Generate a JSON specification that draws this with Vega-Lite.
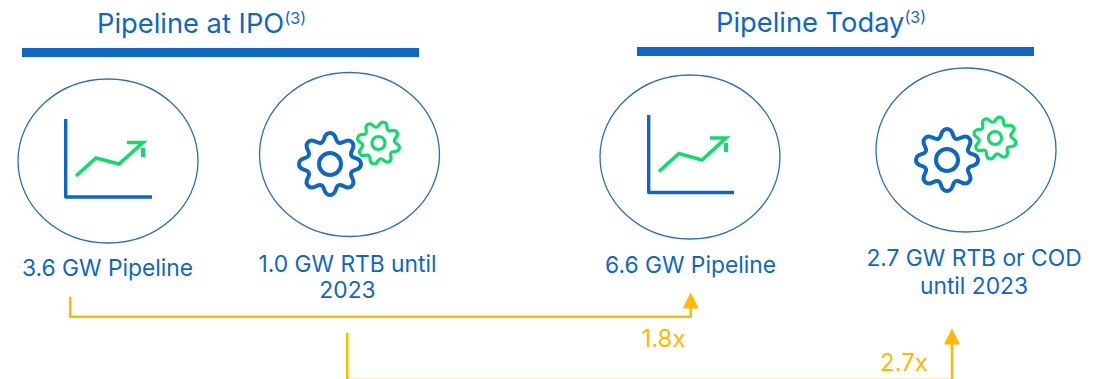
{
  "$schema": "https://vega.github.io/schema/vega-lite/v6.json",
  "width": 1107,
  "height": 379,
  "padding": 0,
  "autosize": {"type": "none"},
  "background": "white",
  "config": {"view": {"stroke": null}},
  "datasets": {
    "bars": [
      {"section": "Pipeline at IPO", "x0": 22, "x1": 419, "y0": 48, "y1": 57},
      {"section": "Pipeline Today", "x0": 637, "x1": 1034, "y0": 47, "y1": 56}
    ],
    "circles": [
      {"item": "pipeline ipo", "x": 108, "y": 161},
      {"item": "rtb ipo", "x": 349.5, "y": 154.5},
      {"item": "pipeline today", "x": 690, "y": 157},
      {"item": "rtb today", "x": 966, "y": 150}
    ],
    "chartAxes": [
      {"icon": "a", "seq": 1, "x": 65.7, "y": 119},
      {"icon": "a", "seq": 2, "x": 65.7, "y": 197},
      {"icon": "a", "seq": 3, "x": 152, "y": 197},
      {"icon": "b", "seq": 1, "x": 648.7, "y": 115},
      {"icon": "b", "seq": 2, "x": 648.7, "y": 192.5},
      {"icon": "b", "seq": 3, "x": 734, "y": 192.5}
    ],
    "trends": [
      {"icon": "a", "seq": 1, "x": 76, "y": 176},
      {"icon": "a", "seq": 2, "x": 96, "y": 158},
      {"icon": "a", "seq": 3, "x": 119, "y": 164},
      {"icon": "a", "seq": 4, "x": 143, "y": 142.5},
      {"icon": "a", "seq": 5, "x": 127, "y": 142.5},
      {"icon": "b", "seq": 1, "x": 659, "y": 171.5},
      {"icon": "b", "seq": 2, "x": 679, "y": 153.5},
      {"icon": "b", "seq": 3, "x": 702, "y": 160},
      {"icon": "b", "seq": 4, "x": 726, "y": 138},
      {"icon": "b", "seq": 5, "x": 710, "y": 138}
    ],
    "trendTicks": [
      {"icon": "a", "seq": 1, "x": 143, "y": 148},
      {"icon": "a", "seq": 2, "x": 143, "y": 157},
      {"icon": "b", "seq": 1, "x": 726, "y": 143},
      {"icon": "b", "seq": 2, "x": 726, "y": 152}
    ],
    "bigGears": [
      {"item": "ipo", "x": 330, "y": 164},
      {"item": "today", "x": 947, "y": 160}
    ],
    "smallGears": [
      {"item": "ipo", "x": 378.5, "y": 143},
      {"item": "today", "x": 995, "y": 138}
    ],
    "connectors": [
      {"link": "pipeline", "seq": 1, "x": 70.3, "y": 296.7},
      {"link": "pipeline", "seq": 2, "x": 70.3, "y": 316.7},
      {"link": "pipeline", "seq": 3, "x": 690.7, "y": 316.7},
      {"link": "pipeline", "seq": 4, "x": 690.7, "y": 306},
      {"link": "rtb", "seq": 1, "x": 347.3, "y": 332.7},
      {"link": "rtb", "seq": 2, "x": 347.3, "y": 380},
      {"link": "rtb", "seq": 3, "x": 952, "y": 380},
      {"link": "rtb", "seq": 4, "x": 952, "y": 342}
    ],
    "arrowHeads": [
      {"link": "pipeline", "x": 690.7, "y": 300.5},
      {"link": "rtb", "x": 952, "y": 336.5}
    ],
    "headings": [
      {"text": "Pipeline at IPO", "x": 97, "y": 32.7},
      {"text": "Pipeline Today", "x": 716, "y": 31.7}
    ],
    "notes": [
      {"text": "(3)", "x": 284.5, "y": 24},
      {"text": "(3)", "x": 904.5, "y": 23}
    ],
    "labels": [
      {"text": "3.6 GW Pipeline", "x": 107.5, "y": 276},
      {"text": "1.0 GW RTB until", "x": 347.5, "y": 271.5},
      {"text": "2023", "x": 347.5, "y": 298},
      {"text": "6.6 GW Pipeline", "x": 690.5, "y": 272.7},
      {"text": "2.7 GW RTB or COD", "x": 974, "y": 266},
      {"text": "until 2023", "x": 974, "y": 294}
    ],
    "multiples": [
      {"text": "1.8x", "x": 663.5, "y": 346.7},
      {"text": "2.7x", "x": 904, "y": 371}
    ]
  },
  "encoding": {
    "x": {"field": "x", "type": "quantitative", "axis": null, "scale": {"domain": [0, 1107], "nice": false, "zero": false}},
    "y": {"field": "y", "type": "quantitative", "axis": null, "scale": {"domain": [0, 379], "nice": false, "zero": false, "reverse": true}}
  },
  "layer": [
    {
      "data": {"name": "bars"},
      "mark": {"type": "rect", "color": "#0F67C5"},
      "encoding": {
        "x": {"field": "x0", "type": "quantitative", "axis": null, "scale": {"domain": [0, 1107], "nice": false, "zero": false}},
        "x2": {"field": "x1"},
        "y": {"field": "y0", "type": "quantitative", "axis": null, "scale": {"domain": [0, 379], "nice": false, "zero": false, "reverse": true}},
        "y2": {"field": "y1"}
      }
    },
    {
      "data": {"name": "circles"},
      "mark": {
        "type": "point", "filled": false, "stroke": "#2A6DBB", "strokeWidth": 1.3, "opacity": 1, "size": 32400,
        "shape": "M1,0C1,0.503 0.552,0.911 0,0.911C-0.552,0.911 -1,0.503 -1,0C-1,-0.503 -0.552,-0.911 0,-0.911C0.552,-0.911 1,-0.503 1,0Z"
      }
    },
    {
      "data": {"name": "chartAxes"},
      "mark": {"type": "line", "stroke": "#0F67C5", "strokeWidth": 3.4, "strokeJoin": "round"},
      "encoding": {"detail": {"field": "icon"}, "order": {"field": "seq", "type": "quantitative"}}
    },
    {
      "data": {"name": "trends"},
      "mark": {"type": "line", "stroke": "#0FDC6C", "strokeWidth": 3.6, "strokeJoin": "miter"},
      "encoding": {"detail": {"field": "icon"}, "order": {"field": "seq", "type": "quantitative"}}
    },
    {
      "data": {"name": "trendTicks"},
      "mark": {"type": "line", "stroke": "#0FDC6C", "strokeWidth": 4},
      "encoding": {"detail": {"field": "icon"}, "order": {"field": "seq", "type": "quantitative"}}
    },
    {
      "data": {"name": "bigGears"},
      "mark": {
        "type": "point", "filled": false, "stroke": "#0F67C5", "strokeWidth": 4, "opacity": 1, "size": 3844, "strokeJoin": "round",
        "shape": "M0,-1C0.232,-1.004 0.148,-0.725 0.283,-0.684C0.408,-0.617 0.546,-0.873 0.707,-0.707C0.873,-0.546 0.617,-0.408 0.684,-0.283C0.725,-0.148 1.004,-0.232 1,0C1.004,0.232 0.725,0.148 0.684,0.283C0.617,0.408 0.873,0.546 0.707,0.707C0.546,0.873 0.408,0.617 0.283,0.684C0.148,0.725 0.232,1.004 0,1C-0.232,1.004 -0.148,0.725 -0.283,0.684C-0.408,0.617 -0.546,0.873 -0.707,0.707C-0.873,0.546 -0.617,0.408 -0.684,0.283C-0.725,0.148 -1.004,0.232 -1,0C-1.004,-0.232 -0.725,-0.148 -0.684,-0.283C-0.617,-0.408 -0.873,-0.546 -0.707,-0.707C-0.546,-0.873 -0.408,-0.617 -0.283,-0.684C-0.148,-0.725 -0.232,-1.004 0,-1Z"
      }
    },
    {
      "data": {"name": "bigGears"},
      "mark": {"type": "point", "shape": "circle", "filled": false, "stroke": "#0F67C5", "strokeWidth": 4, "opacity": 1, "size": 484}
    },
    {
      "data": {"name": "smallGears"},
      "mark": {
        "type": "point", "filled": false, "stroke": "#0FDC6C", "strokeWidth": 3.2, "opacity": 1, "size": 1849, "strokeJoin": "round", "angle": 15,
        "shape": "M0,-1C0.232,-1.004 0.148,-0.725 0.283,-0.684C0.408,-0.617 0.546,-0.873 0.707,-0.707C0.873,-0.546 0.617,-0.408 0.684,-0.283C0.725,-0.148 1.004,-0.232 1,0C1.004,0.232 0.725,0.148 0.684,0.283C0.617,0.408 0.873,0.546 0.707,0.707C0.546,0.873 0.408,0.617 0.283,0.684C0.148,0.725 0.232,1.004 0,1C-0.232,1.004 -0.148,0.725 -0.283,0.684C-0.408,0.617 -0.546,0.873 -0.707,0.707C-0.873,0.546 -0.617,0.408 -0.684,0.283C-0.725,0.148 -1.004,0.232 -1,0C-1.004,-0.232 -0.725,-0.148 -0.684,-0.283C-0.617,-0.408 -0.873,-0.546 -0.707,-0.707C-0.546,-0.873 -0.408,-0.617 -0.283,-0.684C-0.148,-0.725 -0.232,-1.004 0,-1Z"
      }
    },
    {
      "data": {"name": "smallGears"},
      "mark": {"type": "point", "shape": "circle", "filled": false, "stroke": "#0FDC6C", "strokeWidth": 3.2, "opacity": 1, "size": 169}
    },
    {
      "data": {"name": "connectors"},
      "mark": {"type": "line", "stroke": "#FFB900", "strokeWidth": 2.5, "strokeJoin": "miter"},
      "encoding": {"detail": {"field": "link"}, "order": {"field": "seq", "type": "quantitative"}}
    },
    {
      "data": {"name": "arrowHeads"},
      "mark": {"type": "point", "filled": true, "color": "#FFB900", "opacity": 1, "size": 256, "shape": "M0,-1L1,1L-1,1Z"}
    },
    {
      "data": {"name": "headings"},
      "mark": {"type": "text", "font": "Inter", "fontSize": 27.3, "align": "left", "baseline": "alphabetic", "color": "#0F67C5"},
      "encoding": {"text": {"field": "text"}}
    },
    {
      "data": {"name": "notes"},
      "mark": {"type": "text", "font": "Inter", "fontSize": 16, "align": "left", "baseline": "alphabetic", "color": "#0F67C5"},
      "encoding": {"text": {"field": "text"}}
    },
    {
      "data": {"name": "labels"},
      "mark": {"type": "text", "font": "Inter", "fontSize": 22.8, "align": "center", "baseline": "alphabetic", "color": "#0F67C5"},
      "encoding": {"text": {"field": "text"}}
    },
    {
      "data": {"name": "multiples"},
      "mark": {"type": "text", "font": "Inter", "fontSize": 24, "align": "center", "baseline": "alphabetic", "color": "#FFB900"},
      "encoding": {"text": {"field": "text"}}
    }
  ]
}
